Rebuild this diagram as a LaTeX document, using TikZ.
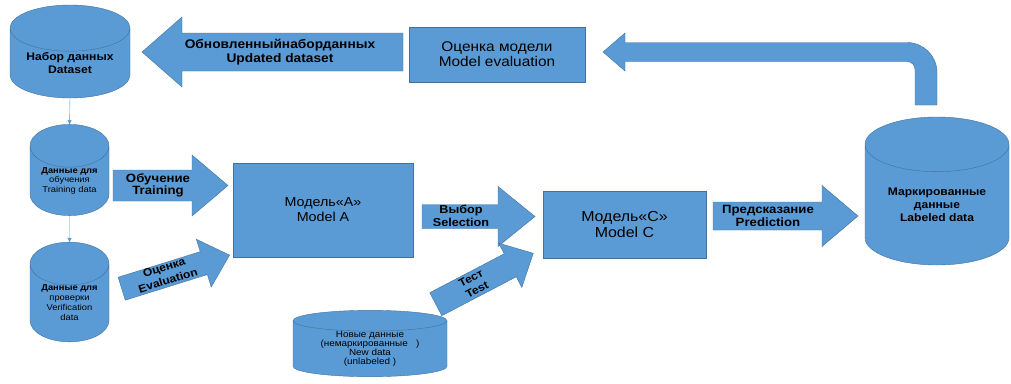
\documentclass[tikz,border=0pt]{standalone}
\usepackage{fontspec}
\setmainfont{Liberation Sans}[FakeStretch=1.1]
\usetikzlibrary{shapes.geometric, arrows.meta}
\definecolor{boxblue}{RGB}{91,155,213}
\definecolor{edgeblue}{RGB}{65,113,156}

\begin{document}
\begin{tikzpicture}
    [
        x=1pt, y=-1pt,
        box/.style = {
            rectangle, draw=edgeblue, fill=boxblue, inner sep=0pt, align=center
            },
        store/.style = {
            cylinder, shape border rotate=90, draw=edgeblue, fill=boxblue,
            inner sep=0pt, align=center, anchor=shape center
            },
        flow/.style = {
            draw=edgeblue, fill=boxblue
            },
        flowtext/.style = {
            align=center, font=\bfseries\fontsize{11}{13.5}\selectfont
            },
        link/.style = {
            draw=boxblue, -{Triangle[length=4pt, width=4pt]}
            },
        pics/flowarrow/.style args = {#1/#2/#3/#4}{code={
            \path[flow] (0,-#2) -- (#1-#4,-#2) -- (#1-#4,-#3) -- (#1,0)
                -- (#1-#4,#3) -- (#1-#4,#2) -- (0,#2) -- cycle;
            }},
    ]
    \useasboundingbox (0,0) rectangle (1011,383);

    %stores
    \node[store, minimum width=120, minimum height=93, aspect=0.53,
        font=\bfseries\fontsize{11}{13}\selectfont] (dataset) at (70,51.5) {Набор данных\\Dataset};
    \node[store, minimum width=79, minimum height=88, aspect=0.76,
        font=\fontsize{8.5}{9.6}\selectfont] (train) at (69.5,170) {{\bfseries Данные для}\\обучения\\Training data};
    \node[store, minimum width=79, minimum height=90, aspect=0.76,
        font=\fontsize{8.5}{9.8}\selectfont] (verify) at (69.5,292) {{\bfseries Данные для}\\проверки\\Verification\\data};
    \node[store, minimum width=154, minimum height=63, aspect=0.21,
        font=\fontsize{9}{9}\selectfont] (newdata) at (370,343.5) {Новые данные\\(немаркированные\ \ \ )\\New data\\(unlabeled\ )};
    \node[store, minimum width=144, minimum height=148, aspect=0.556,
        font=\bfseries\fontsize{11}{12.5}\selectfont] (labeled) at (937,191) {Маркированные\\данные\\Labeled data};

    %boxes
    \node[box, minimum width=176, minimum height=55,
        font=\fontsize{14}{15}\selectfont] (evalbox) at (497,54.5) {Оценка модели\\Model evaluation};
    \node[box, minimum width=180, minimum height=94,
        font=\fontsize{13}{15}\selectfont] (modela) at (323,210) {Модель«А»\\Model A};
    \node[box, minimum width=163, minimum height=67,
        font=\fontsize{14.5}{15.5}\selectfont] (modelc) at (624.5,224.5) {Модель«С»\\Model C};

    %block arrows
    \pic[rotate=180] at (403,52) {flowarrow=261/19/35/40};
    \pic at (113,185.5) {flowarrow=115/15.5/30.5/36};
    \pic[rotate=17.3] at (121.7,288.7) {flowarrow=113/12/25/27};
    \pic at (422,216.5) {flowarrow=113/12/30/37};
    \pic[rotate=27.6] at (435.8,304.2) {flowarrow=110/13/25/26};
    \pic at (713,216) {flowarrow=145/14/30.5/36};
    \path[flow] (937,105) -- (937,72.5) arc[start angle=0, end angle=-90, radius=30]
        -- (625,42.5) -- (625,33) -- (603,52) -- (625,71) -- (625,61.5)
        -- (907,61.5) arc[start angle=-90, end angle=0, radius=8] -- (915,105) -- cycle;

    %arrow labels
    \node[flowtext, font=\bfseries\fontsize{12.5}{13.5}\selectfont] (updtext) at (280,52) {Обновленныйнаборданных\\Updated dataset};
    \node[flowtext, font=\bfseries\fontsize{12}{12.5}\selectfont] (traintext) at (158,185.5) {Обучение\\Training};
    \node[flowtext, rotate=17.3] (evaltext) at (166,274) {Оценка\\Evaluation};
    \node[flowtext, font=\bfseries\fontsize{11.5}{13}\selectfont] (seltext) at (461,216) {Выбор\\Selection};
    \node[flowtext, rotate=27.6] (testtext) at (474,284) {Тест\\Test};
    \node[flowtext, font=\bfseries\fontsize{12}{12.5}\selectfont] (predtext) at (768,216) {Предсказание\\Prediction};

    %connecting stores
    \draw[link] (dataset.south) to (train.north);
    \draw[link] (train.south) to (verify.north);

\end{tikzpicture}
\end{document}
